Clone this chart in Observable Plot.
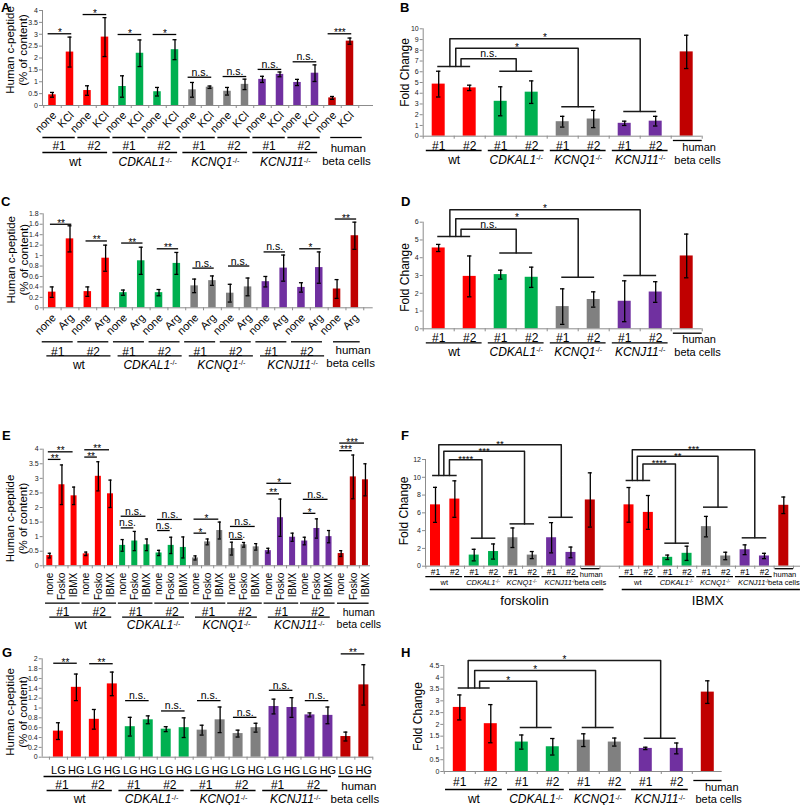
<!DOCTYPE html>
<html><head><meta charset="utf-8">
<script src="https://cdn.jsdelivr.net/npm/d3@7"></script>
<script src="https://cdn.jsdelivr.net/npm/@observablehq/plot@0.6"></script>
<style>
body{margin:0;background:#fff;}
#fig{position:relative;width:800px;height:805px;overflow:hidden;background:#fff;font-family:"Liberation Sans",Arial,sans-serif;}
#fig svg{position:absolute;}
</style></head><body><div id="fig"></div>
<script>
// ---------------- DATA ----------------
const genes = ["wt", "CDKAL1^-/-", "KCNQ1^-/-", "KCNJ11^-/-"];
const clones = ["#1", "#2"];
const humanCells = ["human", "beta cells"];
const panelLetters = ["A", "B", "C", "D", "E", "F", "G", "H"];

// A: KCl stimulation
const A_treat = ["none", "KCl"];
const A_mean = [0.45, 2.25, 0.63, 2.88, 0.8, 2.2, 0.58, 2.35, 0.66, 0.77, 0.6, 0.89, 1.1, 1.31, 0.97, 1.36, 0.32, 2.71];
const A_err  = [0.1, 0.63, 0.2, 0.82, 0.45, 0.56, 0.18, 0.42, 0.31, 0.05, 0.16, 0.22, 0.13, 0.1, 0.13, 0.35, 0.06, 0.13];
const A_sigY = [3.02, 3.83, 2.99, 2.99, 1.19, 1.22, 1.52, 1.84, 3.02];
const A_sigLab = ["*", "*", "*", "*", "n.s.", "n.s.", "n.s.", "n.s.", "***"];
const A_ticks = [0, 0.5, 1, 1.5, 2, 2.5, 3, 3.5, 4];

// B: KCl fold change
const B_mean = [4.85, 4.5, 3.25, 4.1, 1.35, 1.6, 1.2, 1.4, 7.85];
const B_err  = [1.2, 0.25, 1.35, 1.05, 0.5, 0.8, 0.2, 0.45, 1.55];
const B_groupY = [6.5, 6.05, 2.75, 2.3];
const B_cmpTop = [7.2, 8.2, 9.07];
const B_cmpLab = ["n.s.", "*", "*"];
const B_ticks = [0, 1, 2, 3, 4, 5, 6, 7, 8, 9, 10];

// C: Arginine stimulation
const C_treat = ["none", "Arg"];
const C_mean = [0.3, 1.32, 0.31, 0.95, 0.29, 0.9, 0.29, 0.85, 0.42, 0.52, 0.28, 0.4, 0.5, 0.76, 0.39, 0.77, 0.36, 1.38];
const C_err  = [0.1, 0.25, 0.09, 0.25, 0.05, 0.26, 0.06, 0.21, 0.13, 0.09, 0.17, 0.17, 0.1, 0.25, 0.09, 0.3, 0.18, 0.26];
const C_sigY = [1.6, 1.28, 1.24, 1.13, 0.76, 0.8, 1.07, 1.13, 1.7];
const C_sigLab = ["**", "**", "**", "**", "n.s.", "n.s.", "n.s.", "*", "**"];
const C_ticks = [0, 0.2, 0.4, 0.6, 0.8, 1, 1.2, 1.4, 1.6, 1.8];

// D: Arginine fold change
const D_mean = [4.55, 2.95, 3.05, 2.9, 1.25, 1.65, 1.55, 2.07, 4.1];
const D_err  = [0.2, 1.15, 0.25, 0.57, 1.0, 0.43, 1.15, 0.58, 1.23];
const D_groupY = [5.2, 4.26, 2.9, 3.0];
const D_cmpTop = [5.6, 6.2, 6.7];
const D_cmpLab = ["n.s.", "*", "*"];
const D_ticks = [0, 1, 2, 3, 4, 5, 6];

// E: forskolin / IBMX stimulation
const E_treat = ["none", "Fosko", "IBMX"];
const E_mean = [0.35, 2.78, 2.4, 0.41, 3.07, 2.47, 0.7, 0.85, 0.72, 0.44, 0.7, 0.63, 0.27, 0.82, 1.21, 0.59, 0.72, 0.65, 0.52, 1.65, 0.98, 0.85, 1.28, 1.0, 0.42, 3.05, 2.95];
const E_err  = [0.08, 0.68, 0.3, 0.06, 0.5, 0.47, 0.2, 0.33, 0.2, 0.09, 0.28, 0.36, 0.07, 0.1, 0.29, 0.22, 0.08, 0.11, 0.08, 0.64, 0.14, 0.13, 0.33, 0.21, 0.1, 0.75, 0.55];
const E_sigFoskoY = [3.65, 3.73, 1.30, 1.21, 1.12, 0.91, 2.47, 1.8, 3.95];
const E_sigFoskoLab = ["**", "**", "n.s.", "n.s.", "*", "n.s.", "**", "*", "***"];
const E_sigIbmxY = [3.91, 3.98, 1.70, 1.59, 1.6, 1.35, 2.83, 2.28, 4.21];
const E_sigIbmxLab = ["**", "**", "n.s.", "n.s.", "*", "n.s.", "*", "n.s.", "***"];
const E_ticks = [0, 0.5, 1, 1.5, 2, 2.5, 3, 3.5, 4];

// F: fold change forskolin / IBMX
const F_conditions = ["forskolin", "IBMX"];
const F_forsk_mean = [6.9, 7.55, 1.25, 1.65, 3.2, 1.25, 3.2, 1.55, 7.45];
const F_forsk_err  = [1.97, 2.05, 0.65, 0.85, 1.1, 0.4, 1.7, 0.6, 3.05];
const F_forsk_groupY = [10.2, 3.15, 4.76, 5.5];
const F_forsk_cmpTop = [11.96, 12.94, 13.65];
const F_forsk_cmpLab = ["****", "***", "**"];
const F_ibmx_mean = [6.9, 6.05, 1.0, 1.45, 4.45, 1.15, 1.85, 1.15, 6.85];
const F_ibmx_err  = [1.95, 1.9, 0.25, 0.8, 1.15, 0.42, 0.55, 0.3, 0.93];
const F_ibmx_groupY = [9.64, 2.59, 6.64, 3.19];
const F_ibmx_cmpTop = [11.5, 12.37, 13.09];
const F_ibmx_cmpLab = ["****", "**", "***"];
const F_ticks = [0, 2, 4, 6, 8, 10, 12];

// G: low / high glucose
const G_treat = ["LG", "HG"];
const G_mean = [0.53, 1.42, 0.77, 1.49, 0.62, 0.76, 0.57, 0.6, 0.55, 0.76, 0.48, 0.6, 1.03, 1.01, 0.86, 0.85, 0.42, 1.47];
const G_err  = [0.17, 0.27, 0.2, 0.24, 0.19, 0.08, 0.05, 0.2, 0.1, 0.26, 0.07, 0.09, 0.15, 0.2, 0.04, 0.17, 0.09, 0.41];
const G_sigY = [1.91, 1.9, 1.15, 0.94, 1.15, 0.81, 1.36, 1.15, 2.1];
const G_sigLab = ["**", "**", "n.s.", "n.s.", "n.s.", "n.s.", "n.s.", "n.s.", "**"];
const G_ticks = [0, 0.2, 0.4, 0.6, 0.8, 1, 1.2, 1.4, 1.6, 1.8, 2];

// H: glucose fold change
const H_mean = [2.72, 2.03, 1.25, 1.05, 1.33, 1.25, 0.98, 0.98, 3.37];
const H_err  = [0.53, 0.81, 0.3, 0.35, 0.27, 0.17, 0.05, 0.23, 0.48];
const H_groupY = [3.54, 1.87, 1.87, 1.41];
const H_cmpTop = [3.83, 4.29, 4.71];
const H_cmpLab = ["*", "*", "*"];
const H_ticks = [0, 0.5, 1, 1.5, 2, 2.5, 3, 3.5, 4, 4.5];

// ---------------- STYLE ----------------
const groupColors = ["#ff0000", "#00b050", "#808080", "#7030a0", "#c00000"];
const AXIS = "#8c8c8c";
const FONT = '"Liberation Sans", Arial, Helvetica, sans-serif';
const fig = document.getElementById("fig");

function isStar(s) { return /^\*+$/.test(s); }

function sigText(data, st) {
  return [
    Plot.text(data.filter(d => isStar(d.label)), {x: "x", y: "y", text: "label", lineAnchor: "bottom", dy: st.starDy, fontSize: st.starFont, fill: "black"}),
    Plot.text(data.filter(d => !isStar(d.label)), {x: "x", y: "y", text: "label", lineAnchor: "bottom", dy: st.nsDy, fontSize: st.nsFont, fill: "black"})
  ];
}

function stepOf(L) { return (L.r1 - L.r0) / (L.d1 - L.d0); }

function barMarks(bars, L) {
  const step = stepOf(L);
  const hw = L.barW / 2 / step, cw = L.cap / step;
  return [
    Plot.rectY(bars, {x1: d => d.i - hw, x2: d => d.i + hw, y1: 0, y2: "v", fill: "c"}),
    Plot.ruleX(bars, {x: "i", y1: d => d.v - d.e, y2: d => d.v + d.e, stroke: "black", strokeWidth: 1.3}),
    Plot.ruleY(bars, {y: d => d.v + d.e, x1: d => d.i - cw, x2: d => d.i + cw, stroke: "black", strokeWidth: 1.3}),
    Plot.ruleY(bars, {y: d => d.v - d.e, x1: d => d.i - cw, x2: d => d.i + cw, stroke: "black", strokeWidth: 1.3})
  ];
}

function xTicks(L, n) {
  const pu = (L.y0 - L.yt) / L.ymax;
  const b = d3.range(-1, n).map(k => k + 0.5).filter(v => v >= L.d0 && v <= L.d1);
  return Plot.ruleX(b, {x: d => d, y1: 0, y2: -3 / pu, stroke: AXIS});
}

function supers(svg) {
  const ns = "http://www.w3.org/2000/svg";
  svg.querySelectorAll("text").forEach(t => {
    if (t.querySelector("tspan")) return;
    const s = t.textContent;
    const k = s.indexOf("^");
    if (k < 0) return;
    t.textContent = "";
    const a = document.createElementNS(ns, "tspan");
    a.textContent = s.slice(0, k); a.setAttribute("font-style", "italic");
    const b = document.createElementNS(ns, "tspan");
    b.textContent = s.slice(k + 1); b.setAttribute("font-size", "60%"); b.setAttribute("dy", "-0.5em");
    t.append(a, b);
  });
}

function render(L, marks) {
  const svg = Plot.plot({
    width: L.width, height: L.height,
    marginLeft: L.r0, marginRight: L.width - L.r1, marginTop: L.yt, marginBottom: L.height - L.y0,
    x: {type: "linear", domain: [L.d0, L.d1], range: [L.r0, L.r1], axis: null},
    y: {type: "linear", domain: [0, L.ymax], range: [L.y0, L.yt]},
    color: {type: "identity"},
    style: {fontFamily: FONT, background: "none", overflow: "visible"},
    marks: [
      Plot.axisY({ticks: L.ticks, tickFormat: d => String(d), tickSize: 3, tickPadding: 1.5, fontSize: L.tickFont, stroke: AXIS, fill: "#222", label: null}),
      ...marks,
      Plot.ruleY([0], {x1: L.d0, x2: L.d1, stroke: AXIS}),
      Plot.ruleX([L.d0], {y1: 0, y2: L.ymax, stroke: AXIS})
    ]
  });
  svg.style.left = L.left + "px";
  svg.style.top = L.top + "px";
  supers(svg);
  fig.appendChild(svg);
}

function secretion(L, d) {
  const nT = d.treat.length, perGene = 2 * nT, n = d.mean.length;
  const bars = d.mean.map((v, k) => ({i: k, v, e: d.err[k], c: groupColors[Math.min(4, Math.floor(k / perGene))]}));
  const marks = [xTicks(L, n), ...barMarks(bars, L)];
  const sig = [];
  for (let k = 0; k < 9; k++) {
    const f = k * nT;
    sig.push({a: f + L.sigA, b: f + 1 + L.sigB, y: d.sigY[k], label: d.sigLab[k]});
    if (d.sigY2) sig.push({a: f + L.sigA, b: f + 2 + L.sigB, y: d.sigY2[k], label: d.sigLab2[k]});
  }
  marks.push(Plot.ruleY(sig, {x1: "a", x2: "b", y: "y", stroke: "black", strokeWidth: 1.3}));
  marks.push(...sigText(sig.map(s => ({x: (s.a + s.b) / 2, y: s.y, label: s.label})), L.sigStyle));
  const tl = bars.map(b => ({x: b.i, t: d.treat[b.i % nT]}));
  marks.push(Plot.text(tl, {x: "x", y: 0, text: "t", rotate: L.trot, textAnchor: L.trot ? "end" : "middle", dx: L.tdx, dy: L.tdy, fontSize: L.tfs, fill: "black"}));
  const hk = 8 * nT;
  const l1 = d3.range(8).map(k => ({a: k * nT + L.l1[0], b: k * nT + L.l1[1], t: clones[k % 2]}));
  const l1all = l1.concat([{a: hk + L.hl1[0], b: hk + L.hl1[1], t: ""}]);
  marks.push(Plot.ruleY(l1all, {x1: "a", x2: "b", y: 0, dy: L.l1dy, stroke: "black", strokeWidth: 1.3}));
  marks.push(Plot.text(l1, {x: d => (d.a + d.b) / 2, y: 0, dy: L.cdy, text: "t", fontSize: L.cfs, fill: "black"}));
  const l2 = genes.map((g, j) => ({a: j * perGene + L.l2[0], b: j * perGene + L.l2[1], t: g}));
  marks.push(Plot.ruleY(l2, {x1: "a", x2: "b", y: 0, dy: L.l2dy, stroke: "black", strokeWidth: 1.3}));
  marks.push(Plot.text(l2, {x: d => (d.a + d.b) / 2, y: 0, dy: L.gdy, text: "t", fontSize: L.gfs, fill: "black"}));
  marks.push(Plot.text([humanCells[0]], {x: hk + L.hx[0], y: 0, dy: L.hdy[0], text: d => d, fontSize: L.hfs, fill: "black"}));
  marks.push(Plot.text([humanCells[1]], {x: hk + L.hx[1], y: 0, dy: L.hdy[1], text: d => d, fontSize: L.hfs, fill: "black"}));
  marks.push(Plot.text(["Human c-peptide\n(% of content)"], {frameAnchor: "left", text: d => d, rotate: -90, textAnchor: "middle", lineAnchor: "middle", lineHeight: 1.1, dx: L.ydx, dy: L.ydy, fontSize: L.yfs, fill: "black"}));
  render(L, marks);
}

function foldSet(L, s, marks) {
  const b0 = s.base;
  const bars = s.mean.map((v, k) => ({i: b0 + k, v, e: s.err[k], c: groupColors[Math.min(4, Math.floor(k / 2))]}));
  marks.push(...barMarks(bars, L));
  const gl = s.groupY.map((y, g) => ({a: b0 + 2 * g + L.gs[0], b: b0 + 2 * g + L.gs[1], y}));
  marks.push(Plot.ruleY(gl, {x1: "a", x2: "b", y: "y", stroke: "#1a1a1a", strokeWidth: 1.5}));
  const pts = [], labs = [];
  s.cmpTop.forEach((top, c) => {
    const fx = b0 + L.from[c], tx = b0 + L.to[c];
    pts.push({id: c, x: fx, y: s.groupY[0]}, {id: c, x: fx, y: top}, {id: c, x: tx, y: top}, {id: c, x: tx, y: s.groupY[c + 1]});
    labs.push({x: (fx + tx) / 2, y: top, label: s.cmpLab[c]});
  });
  marks.push(Plot.line(pts, {x: "x", y: "y", z: "id", stroke: "#1a1a1a", strokeWidth: 1.5}));
  marks.push(...sigText(labs, L.sigStyle));
  const cl = d3.range(8).map(k => ({x: b0 + k, t: clones[k % 2]}));
  marks.push(Plot.text(cl, {x: "x", y: 0, dy: L.cdy, text: "t", fontSize: L.cfs, fill: "black"}));
  const gg = genes.map((g, j) => ({a: b0 + 2 * j + L.l1[0], b: b0 + 2 * j + L.l1[1], t: g}));
  marks.push(Plot.ruleY(gg, {x1: "a", x2: "b", y: 0, dy: L.l1dy, stroke: "black", strokeWidth: 1.3}));
  marks.push(Plot.text(gg, {x: d => (d.a + d.b) / 2, y: 0, dy: L.gdy, text: "t", fontSize: L.gfs, fill: "black"}));
  marks.push(Plot.ruleY([0], {x1: b0 + L.hl[0], x2: b0 + L.hl[1], y: 0, dy: L.hldy, stroke: "black", strokeWidth: 1.3}));
  marks.push(Plot.text([humanCells[0]], {x: b0 + L.hx[0], y: 0, dy: L.hdy[0], text: d => d, fontSize: L.hfs, fill: "black"}));
  marks.push(Plot.text([humanCells[1]], {x: b0 + L.hx[1], y: 0, dy: L.hdy[1], text: d => d, fontSize: L.hfs, fill: "black"}));
}

function fold(L, sets, extra) {
  const n = Math.max(...sets.map(s => s.base + s.mean.length));
  const marks = [xTicks(L, n)];
  sets.forEach(s => foldSet(L, s, marks));
  if (extra) extra(marks);
  marks.push(Plot.text(["Fold Change"], {frameAnchor: "left", text: d => d, rotate: -90, textAnchor: "middle", lineAnchor: "middle", dx: L.ydx, dy: L.ydy, fontSize: L.yfs, fill: "black"}));
  render(L, marks);
}

// ---------------- PANELS ----------------
const sigSec = {starDy: 2.5, starFont: 10, nsDy: -1.5, nsFont: 10.5};
const sigFold = {starDy: 2.5, starFont: 10, nsDy: -1.5, nsFont: 10.5};

secretion({left: 0, top: 0, width: 400, height: 200, r0: 42, r1: 373, d0: -0.571, d1: 18.343, y0: 105, yt: 10, ymax: 4, ticks: A_ticks, tickFont: 7,
  barW: 7.5, cap: 2, sigA: -0.25, sigB: 0.1, sigStyle: sigSec, trot: -45, tdx: 2, tdy: 8, tfs: 11,
  l1: [-0.55, 1.3], l1dy: 32, cdy: 41, cfs: 12, hl1: [-0.1, 1.7], l2: [-0.55, 3.15], l2dy: 47, gdy: 57, gfs: 12,
  hx: [0.9, 0.8], hdy: [43, 56], hfs: 11.5, ydx: -26, ydy: -8, yfs: 11.5},
  {treat: A_treat, mean: A_mean, err: A_err, sigY: A_sigY, sigLab: A_sigLab});

secretion({left: 0, top: 200, width: 400, height: 210, r0: 42.7, r1: 372.7, d0: -0.5056, d1: 18.03, y0: 107.3, yt: 13.3, ymax: 1.8, ticks: C_ticks, tickFont: 7,
  barW: 7.5, cap: 2, sigA: -0.1, sigB: 0.1, sigStyle: sigSec, trot: -45, tdx: 2, tdy: 8, tfs: 11,
  l1: [-0.56, 1.18], l1dy: 34, cdy: 44, cfs: 12, hl1: [-0.2, 1.3], l2: [-0.3, 3.3], l2dy: 48, gdy: 57, gfs: 12,
  hx: [0.9, 0.76], hdy: [43, 56], hfs: 11.5, ydx: -26, ydy: -1, yfs: 11.5},
  {treat: C_treat, mean: C_mean, err: C_err, sigY: C_sigY, sigLab: C_sigLab});

secretion({left: 0, top: 410, width: 400, height: 215, r0: 42.7, r1: 370, d0: -0.543, d1: 26.416, y0: 155.3, yt: 38.7, ymax: 4, ticks: E_ticks, tickFont: 7,
  barW: 6, cap: 1.6, sigA: -0.12, sigB: -0.08, sigStyle: sigSec, trot: -90, tdx: 0, tdy: 7, tfs: 10,
  l1: [-0.35, 2.5], l1dy: 37.4, cdy: 46.4, cfs: 12, hl1: [-0.3, 2.3], l2: [0, 5.1], l2dy: 51.4, gdy: 59.5, gfs: 12,
  hx: [1.45, 1.45], hdy: [47, 58.8], hfs: 10.5, ydx: -26.7, ydy: 11, yfs: 11.5},
  {treat: E_treat, mean: E_mean, err: E_err, sigY: E_sigFoskoY, sigLab: E_sigFoskoLab, sigY2: E_sigIbmxY, sigLab2: E_sigIbmxLab});

secretion({left: 0, top: 620, width: 400, height: 185, r0: 41.7, r1: 372.7, d0: -0.902, d1: 17.52, y0: 136.7, yt: 38.3, ymax: 2, ticks: G_ticks, tickFont: 7,
  barW: 10, cap: 2, sigA: -0.26, sigB: 0.05, sigStyle: sigSec, trot: 0, tdx: 0, tdy: 13.3, tfs: 11,
  l1: [-0.8, 1.2], l1dy: 19.3, cdy: 28.3, cfs: 12, hl1: [-0.4, 1.4], l2: [-0.63, 3.0], l2dy: 33.3, gdy: 42.3, gfs: 12,
  hx: [0.72, 0.5], hdy: [29.5, 42.3], hfs: 11.5, ydx: -25.7, ydy: 4, yfs: 11.5},
  {treat: G_treat, mean: G_mean, err: G_err, sigY: G_sigY, sigLab: G_sigLab});

const foldBD = {width: 400, height: 200, r0: 22.7, r1: 301.7, d0: -0.5, d1: 8.5, tickFont: 7, barW: 13, cap: 2.2,
  gs: [-0.03, 1.03], from: [0.72, 0.55, 0.36], to: [2.5, 4.5, 6.5], sigStyle: sigFold,
  cfs: 12, l1: [-0.4, 1.4], gfs: 12, hfs: 11, hl: [7.57, 8.5], hx: [8.4, 8.35], ydx: -18.2, yfs: 12};

fold(Object.assign({}, foldBD, {left: 400, top: 0, y0: 135.7, yt: 28.3, ymax: 10, ticks: B_ticks,
  cdy: 10, l1dy: 14.3, gdy: 23.6, hldy: 4.3, hdy: [11.3, 23.8], ydy: -10}),
  [{base: 0, mean: B_mean, err: B_err, groupY: B_groupY, cmpTop: B_cmpTop, cmpLab: B_cmpLab}]);

fold(Object.assign({}, foldBD, {left: 400, top: 200, y0: 128.3, yt: 21.7, ymax: 6, ticks: D_ticks,
  cdy: 9, l1dy: 14, gdy: 23.4, hldy: 4.4, hdy: [11, 23.6], ydy: 2}),
  [{base: 0, mean: D_mean, err: D_err, groupY: D_groupY, cmpTop: D_cmpTop, cmpLab: D_cmpLab}]);

const LF = {left: 400, top: 410, width: 400, height: 215, r0: 25, r1: 400, d0: -0.517, d1: 18.863, y0: 155.7, yt: 49, ymax: 12, ticks: F_ticks, tickFont: 7,
  barW: 10, cap: 2, gs: [-0.15, 1.12], from: [0.72, 0.43, 0.17], to: [2.4, 4.6, 6.5], sigStyle: {starDy: 2.5, starFont: 9.5, nsDy: -1.5, nsFont: 10},
  cdy: 6.5, cfs: 8.5, l1: [-0.5, 1.4], l1dy: 10.5, gdy: 16.8, gfs: 7.5, hfs: 7.5, hl: [7.55, 8.5], hldy: 2.5, hx: [8.05, 8.0], hdy: [8, 16.8], ydx: -21, ydy: -2, yfs: 12};
fold(LF, [
  {base: 0, mean: F_forsk_mean, err: F_forsk_err, groupY: F_forsk_groupY, cmpTop: F_forsk_cmpTop, cmpLab: F_forsk_cmpLab},
  {base: 10, mean: F_ibmx_mean, err: F_ibmx_err, groupY: F_ibmx_groupY, cmpTop: F_ibmx_cmpTop, cmpLab: F_ibmx_cmpLab}
], marks => {
  const cond = [{a: -0.27, b: 8.7, x: 4.6, t: F_conditions[0]}, {a: 9.65, b: 18.86, x: 14.07, t: F_conditions[1]}];
  marks.push(Plot.ruleY(cond, {x1: "a", x2: "b", y: 0, dy: 23.3, stroke: "black", strokeWidth: 1.3}));
  marks.push(Plot.text(cond, {x: "x", y: 0, dy: 34.3, text: "t", fontSize: 13, fill: "black"}));
});

fold({left: 400, top: 620, width: 400, height: 185, r0: 43.3, r1: 321.7, d0: -0.516, d1: 8.465, y0: 151, yt: 45, ymax: 4.5, ticks: H_ticks, tickFont: 7,
  barW: 13, cap: 2.2, gs: [-0.05, 0.98], from: [0.64, 0.48, 0.27], to: [2.48, 4.38, 6.48], sigStyle: sigFold,
  cdy: 10.7, cfs: 12, l1: [-0.46, 1.37], l1dy: 18, gdy: 28, gfs: 12, hfs: 11, hl: [7.55, 8.46], hldy: 9, hx: [8.45, 8.35], hdy: [16, 28.3], ydx: -26, ydy: -2, yfs: 12},
  [{base: 0, mean: H_mean, err: H_err, groupY: H_groupY, cmpTop: H_cmpTop, cmpLab: H_cmpLab}]);

// panel letters
const letterPos = [[1, 11.5], [400, 11.5], [1, 206], [401, 206], [2, 440], [401, 440], [2, 657], [401, 657]];
const ov = d3.select(fig).append("svg").attr("width", 800).attr("height", 805).style("left", "0px").style("top", "0px").style("pointer-events", "none");
ov.selectAll("text").data(panelLetters).join("text")
  .attr("x", (d, i) => letterPos[i][0]).attr("y", (d, i) => letterPos[i][1])
  .attr("font-family", FONT).attr("font-weight", "bold").attr("font-size", 13).text(d => d);
</script>
</body></html>
